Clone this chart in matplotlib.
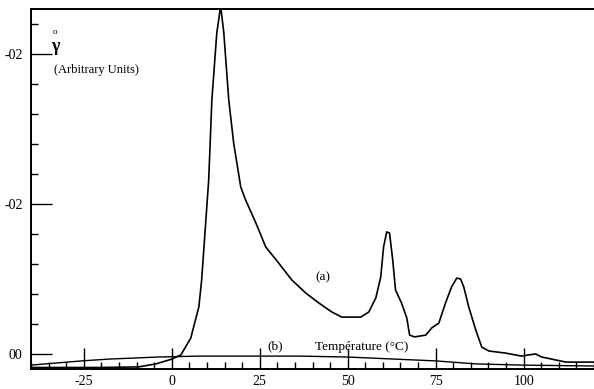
import numpy as np
import matplotlib
matplotlib.use("Agg")
import matplotlib.pyplot as plt
from matplotlib.ticker import MultipleLocator

# curve (a): relaxation signal, arbitrary units
temp_a = [-40, -20.7, -9.4, -4.5, 0, 2.6, 5.4, 7.7, 8.5, 10.5, 11.4, 12.8, 13.9,
          14.8, 16.2, 17.6, 19.6, 21.0, 23.9, 26.7, 30.4, 34.1, 38.1, 41.8, 45.5,
          48.3, 53.7, 56.0, 58.0, 59.4, 60.2, 61.1, 61.9, 62.8, 63.6, 65.3, 66.8,
          67.6, 69.0, 72.2, 73.9, 75.9, 77.8, 79.5, 81.0, 82.1, 83.0, 84.4, 86.4,
          88.1, 90.1, 94.9, 99.4, 101.4, 103.4, 105.1, 108.0, 112.0, 120]
signal_a = [-0.45, -0.45, -0.43, -0.33, -0.17, -0.03, 0.53, 1.57, 2.47, 5.8, 8.47,
            10.7, 11.6, 10.7, 8.47, 7.03, 5.57, 5.13, 4.37, 3.57, 3.03, 2.47, 2.03,
            1.7, 1.4, 1.23, 1.23, 1.4, 1.87, 2.57, 3.57, 4.07, 4.03, 3.13, 2.13,
            1.7, 1.2, 0.63, 0.57, 0.63, 0.87, 1.03, 1.7, 2.23, 2.53, 2.5, 2.23,
            1.57, 0.8, 0.23, 0.1, 0.03, -0.07, -0.03, 0.0, -0.1, -0.17, -0.27, -0.27]

# curve (b): reference
temp_b = [-40, -25.6, -17.9, -3.7, 7.7, 36.1, 49.7, 75, 86.4, 99.4, 120]
signal_b = [-0.37, -0.23, -0.17, -0.1, -0.07, -0.07, -0.1, -0.23, -0.33, -0.37, -0.4]

x_ticks = [-25, 0, 25, 50, 75, 100]
y_ticks = [0, 5, 10]
y_tick_labels = ["00", "-02", "-02"]

plt.rcParams["font.family"] = ["Liberation Serif", "DejaVu Serif"]

fig = plt.figure(figsize=(5.94, 3.89), dpi=100)
ax = fig.add_axes([31 / 594, 20 / 389, 563 / 594, 360 / 389])

ax.plot(temp_a, signal_a, color="black", lw=1.2)
ax.plot(temp_b, signal_b, color="black", lw=1.0)

ax.set_xlim(-40, 120)
ax.set_ylim(-0.5, 11.5)

ax.spines["right"].set_visible(False)
for s in ["left", "bottom", "top"]:
    ax.spines[s].set_linewidth(1.4)

ax.set_xticks(x_ticks)
ax.set_xticklabels([str(v) for v in x_ticks])
ax.xaxis.set_minor_locator(MultipleLocator(5))
ax.set_yticks(y_ticks)
ax.set_yticklabels(y_tick_labels)
ax.yaxis.set_minor_locator(MultipleLocator(1))

ax.tick_params(axis="both", which="major", direction="in", length=15, width=1.0,
               labelsize=10, pad=4)
ax.tick_params(axis="both", which="minor", direction="in", length=5, width=1.0)
ax.tick_params(axis="x", which="both", top=False)
ax.tick_params(axis="y", which="both", right=False)
ax.tick_params(axis="y", which="major", pad=6)

ax.text(42.9, 2.57, "(a)", fontsize=9.5, ha="center", va="center")
ax.text(29.3, 0.27, "(b)", fontsize=9.5, ha="center", va="center")
ax.text(54, 0.23, "Température (°C)", fontsize=9.5, ha="center", va="center")

ax.text(0.043, 0.895, "γ", transform=ax.transAxes, fontsize=13, fontweight="bold",
        ha="center", va="center")
ax.text(0.043, 0.935, "o", transform=ax.transAxes, fontsize=6.5,
        ha="center", va="center")
ax.text(0.04, 0.83, "(Arbitrary Units)", transform=ax.transAxes, fontsize=9,
        ha="left", va="center")

fig.savefig("out.png", dpi=100)
